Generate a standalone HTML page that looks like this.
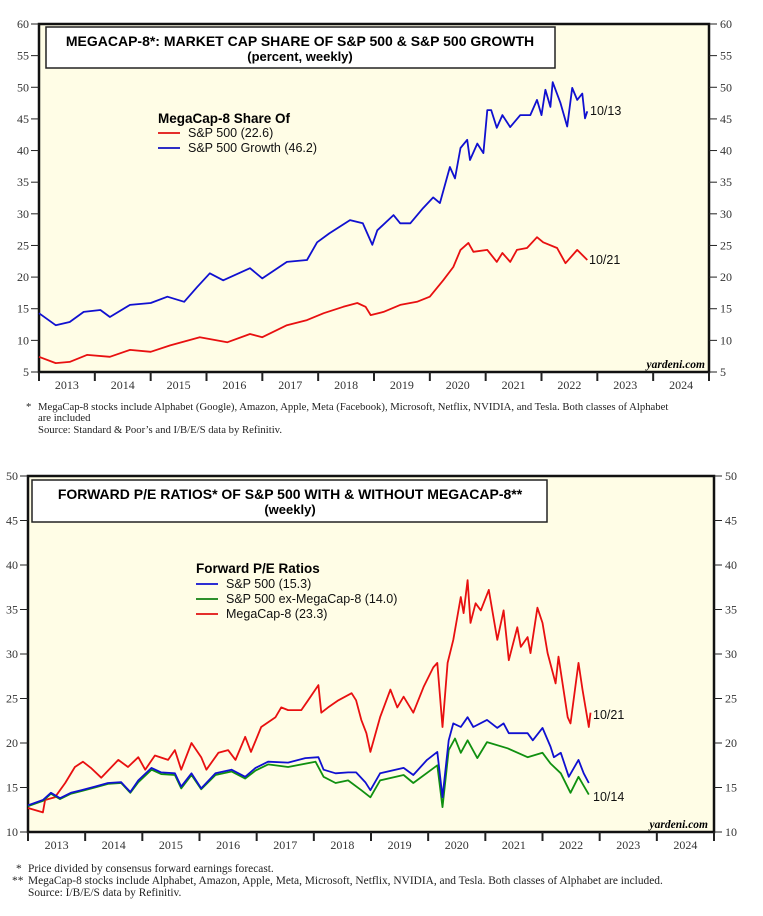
<!DOCTYPE html>
<html><head><meta charset="utf-8">
<style>
body{margin:0;background:#fff;width:763px;height:916px;overflow:hidden}
svg{display:block}
.tk{font-family:"Liberation Serif",serif;font-size:12px;fill:#333}
.ft{font-family:"Liberation Serif",serif;font-size:10.7px;fill:#222}
.fb{font-family:"Liberation Serif",serif;font-size:11.4px;fill:#222}
.tt{font-family:"Liberation Sans",sans-serif;font-weight:bold;fill:#000}
.lg{font-family:"Liberation Sans",sans-serif;font-size:12.5px;fill:#111}
</style></head><body>
<svg id="c" width="763" height="916" xmlns="http://www.w3.org/2000/svg"></svg>
<script>
const years=['2013','2014','2015','2016','2017','2018','2019','2020','2021','2022','2023','2024'];
const topTicks=[5,10,15,20,25,30,35,40,45,50,55,60];
const botTicks=[10,15,20,25,30,35,40,45,50];
const growthX=[2013.0,2013.3,2013.55,2013.8,2014.1,2014.27,2014.63,2015.0,2015.3,2015.6,2015.83,2016.06,2016.3,2016.78,2017.0,2017.44,2017.8,2017.98,2018.2,2018.57,2018.8,2018.97,2019.06,2019.35,2019.47,2019.65,2019.88,2020.06,2020.18,2020.36,2020.45,2020.55,2020.67,2020.72,2020.85,2020.96,2021.03,2021.1,2021.2,2021.3,2021.44,2021.62,2021.8,2021.92,2022.0,2022.07,2022.16,2022.2,2022.34,2022.46,2022.55,2022.64,2022.73,2022.78,2022.82];
const growthY=[14.3,12.4,12.9,14.5,14.8,13.7,15.6,15.9,16.9,16.1,18.4,20.6,19.5,21.4,19.8,22.4,22.7,25.5,26.9,29,28.5,25.1,27.4,29.8,28.5,28.5,30.9,32.6,31.7,37.4,35.6,40.4,41.7,38.5,41.1,39.6,46.4,46.4,43.6,45.6,43.7,45.6,45.6,48,45.6,49.6,46.9,50.8,47.5,43.8,49.9,48,49,45.1,46.2];
const spxX=[2013.0,2013.3,2013.55,2013.86,2014.27,2014.63,2015.0,2015.35,2015.88,2016.37,2016.78,2017.0,2017.44,2017.8,2018.1,2018.45,2018.7,2018.85,2018.94,2019.17,2019.47,2019.77,2020.0,2020.24,2020.42,2020.55,2020.69,2020.78,2021.03,2021.2,2021.3,2021.44,2021.56,2021.74,2021.92,2022.03,2022.28,2022.43,2022.64,2022.82];
const spxY=[7.4,6.4,6.6,7.7,7.4,8.5,8.2,9.2,10.5,9.7,11,10.5,12.4,13.2,14.3,15.3,15.9,15.3,14,14.5,15.6,16.1,16.9,19.5,21.6,24.3,25.4,24,24.3,22.4,23.8,22.4,24.3,24.6,26.3,25.5,24.6,22.2,24.3,22.7];
const peSpxX=[2013.0,2013.26,2013.4,2013.56,2013.75,2013.93,2014.17,2014.4,2014.63,2014.79,2014.93,2015.16,2015.33,2015.57,2015.68,2015.86,2016.03,2016.28,2016.56,2016.8,2016.98,2017.2,2017.55,2017.85,2018.08,2018.17,2018.38,2018.6,2018.74,2018.9,2018.99,2019.16,2019.57,2019.74,2019.98,2020.16,2020.25,2020.36,2020.44,2020.57,2020.69,2020.79,2021.03,2021.21,2021.32,2021.41,2021.74,2021.83,2022.0,2022.14,2022.2,2022.32,2022.46,2022.63,2022.72,2022.81];
const peSpxY=[13,13.6,14.4,13.8,14.4,14.7,15.1,15.5,15.6,14.5,15.8,17.2,16.7,16.6,15.1,16.6,14.9,16.6,17,16.2,17.2,17.9,17.8,18.3,18.4,17,16.6,16.7,16.7,15.6,14.7,16.6,17.2,16.4,18.1,19,13.9,20.3,22.2,21.8,22.9,21.8,22.6,21.7,22.2,21.1,21.1,20.3,21.7,19.6,18.4,18.9,16.2,18.1,16.6,15.5];
const peExX=[2013.0,2013.26,2013.4,2013.56,2013.75,2013.93,2014.17,2014.4,2014.63,2014.79,2014.93,2015.16,2015.33,2015.57,2015.68,2015.86,2016.03,2016.28,2016.56,2016.8,2016.98,2017.2,2017.55,2018.03,2018.17,2018.38,2018.6,2018.83,2018.99,2019.16,2019.57,2019.74,2020.16,2020.25,2020.36,2020.47,2020.57,2020.69,2020.86,2021.03,2021.39,2021.74,2022.0,2022.14,2022.32,2022.49,2022.63,2022.81];
const peExY=[12.9,13.5,14.3,13.7,14.3,14.6,15,15.4,15.5,14.4,15.6,17,16.5,16.4,14.9,16.4,14.8,16.4,16.8,16,16.9,17.6,17.3,17.9,16.2,15.5,15.8,14.7,13.9,15.8,16.4,15.5,17.5,12.8,19.2,20.5,18.9,20.3,18.3,20.1,19.4,18.4,18.9,17.7,16.6,14.4,16.2,14.2];
const peMegaX=[2013.0,2013.26,2013.3,2013.47,2013.65,2013.82,2013.96,2014.1,2014.28,2014.58,2014.75,2014.93,2015.05,2015.22,2015.45,2015.57,2015.68,2015.86,2016.03,2016.12,2016.33,2016.5,2016.63,2016.8,2016.9,2017.08,2017.33,2017.43,2017.55,2017.78,2017.9,2018.08,2018.13,2018.25,2018.43,2018.66,2018.74,2018.83,2018.92,2018.99,2019.16,2019.34,2019.46,2019.57,2019.74,2019.92,2020.09,2020.16,2020.25,2020.34,2020.44,2020.57,2020.62,2020.69,2020.74,2020.83,2020.92,2021.06,2021.21,2021.32,2021.41,2021.56,2021.62,2021.74,2021.79,2021.91,2022.0,2022.09,2022.23,2022.28,2022.44,2022.49,2022.63,2022.7,2022.81,2022.84];
const peMegaY=[12.7,12.2,13.6,13.9,15.5,17.3,17.9,17.2,16.1,18.1,17.3,18.4,17,18.6,18.1,19.2,17,20,18.4,17,18.9,19.2,18.1,20.7,19,21.8,22.9,24,23.7,23.7,24.8,26.5,23.4,24,24.8,25.6,24.8,22.6,21.1,19,22.9,26,24,25.2,23.4,26.3,28.5,29,21.8,29,31.6,36.4,34.6,38.3,33.5,35.7,34.9,37.2,31.6,34.9,29.3,33,30.8,31.9,30.1,35.2,33.5,30.1,26.7,29.7,22.9,22.2,29,26,21.8,23.4];

const S=document.getElementById('c');const NS='http://www.w3.org/2000/svg';
function mk(t,a,p){const e=document.createElementNS(NS,t);for(const k in a)e.setAttribute(k,a[k]);(p||S).appendChild(e);return e;}
function txt(s,a,name){const e=mk('text',a);e.textContent=s;


return e;}

function chart(L,R,T,B,vmin,vmax,ticks,pfx){
  const sx=y=>L+(y-2013)*(R-L)/12, sy=v=>B-(v-vmin)*(B-T)/(vmax-vmin);
  const bg=mk('rect',{x:L,y:T,width:R-L,height:B-T,fill:'#fffde6',stroke:'#111','stroke-width':2.5});
  
  
  ticks.forEach(v=>{const y=sy(v);
    mk('line',{x1:L-8,x2:L,y1:y,y2:y,stroke:'#222'});mk('line',{x1:R,x2:R+8,y1:y,y2:y,stroke:'#222'});
    txt(v,{x:L-10,y:y+4,'text-anchor':'end',class:'tk'},pfx+'-y-tick-left');
    txt(v,{x:R+11,y:y+4,class:'tk'},pfx+'-y-tick-right');});
  years.forEach((yr,i)=>{const x=sx(2013+i);
    mk('line',{x1:x,x2:x,y1:B,y2:B+9,stroke:'#222','stroke-width':2});
    txt(yr,{x:sx(2013.5+i),y:B+17,'text-anchor':'middle',class:'tk'},pfx+'-x-tick');});
  mk('line',{x1:R,x2:R,y1:B,y2:B+9,stroke:'#222','stroke-width':2});
  return {sx,sy};
}
function series(ax,xs,ys,col,name){
  const d=xs.map((x,i)=>(i?'L':'M')+ax.sx(x).toFixed(1)+','+ax.sy(ys[i]).toFixed(1)).join('');
  const p=mk('path',{d:d,fill:'none',stroke:col,'stroke-width':1.8,'stroke-linejoin':'round'});
  
  
}
function legline(x,y,col){mk('line',{x1:x,x2:x+22,y1:y,y2:y,stroke:col,'stroke-width':1.8});}

// top chart
const a1=chart(39,709,24,372,5,60,topTicks,'top');
mk('rect',{x:46,y:27,width:509,height:41,fill:'#fff',stroke:'#222','stroke-width':1.5});
txt('MEGACAP-8*: MARKET CAP SHARE OF S&P 500 & S&P 500 GROWTH',{x:300,y:46,'text-anchor':'middle',class:'tt','font-size':14},'top-chart-title');
txt('(percent, weekly)',{x:300,y:61,'text-anchor':'middle',class:'tt','font-size':13},'top-chart-subtitle');
txt('MegaCap-8 Share Of',{x:158,y:123,class:'tt','font-size':13.5},'top-legend-title');
legline(158,133,'#e01010');txt('S&P 500 (22.6)',{x:188,y:137,class:'lg'},'legend-entry-sp500');
legline(158,148,'#1010c0');txt('S&P 500 Growth (46.2)',{x:188,y:152,class:'lg'},'legend-entry-sp500-growth');
series(a1,spxX,spxY,'#e81010','series-sp500-share');
series(a1,growthX,growthY,'#1010d0','series-sp500-growth-share');
txt('10/13',{x:590,y:115,class:'lg','font-size':11.5,fill:'#2020b0'},'label-growth-date');
txt('10/21',{x:589,y:264,class:'lg','font-size':11.5,fill:'#c01010'},'label-sp500-date');
txt('yardeni.com',{x:705,y:368,'text-anchor':'end','font-family':'Liberation Serif,serif','font-style':'italic','font-weight':'bold','font-size':11.5},'top-watermark');
txt('*',{x:26,y:410,class:'ft'},'top-footnote-star');
txt('MegaCap-8 stocks include Alphabet (Google), Amazon, Apple, Meta (Facebook), Microsoft, Netflix, NVIDIA, and Tesla. Both classes of Alphabet',{x:38,y:410,class:'ft'},'top-footnote-1');
txt('are included',{x:38,y:421,class:'ft'},'top-footnote-2');
txt('Source: Standard & Poor’s and I/B/E/S data by Refinitiv.',{x:38,y:433,class:'ft'},'top-footnote-source');

// bottom chart
const a2=chart(28,714,476,832,10,50,botTicks,'bottom');
mk('rect',{x:32,y:480,width:515,height:42,fill:'#fff',stroke:'#222','stroke-width':1.5});
txt('FORWARD P/E RATIOS* OF S&P 500 WITH & WITHOUT MEGACAP-8**',{x:290,y:499,'text-anchor':'middle',class:'tt','font-size':14},'bottom-chart-title');
txt('(weekly)',{x:290,y:514,'text-anchor':'middle',class:'tt','font-size':13},'bottom-chart-subtitle');
txt('Forward P/E Ratios',{x:196,y:573,class:'tt','font-size':13.5},'bottom-legend-title');
legline(196,584,'#1010d0');txt('S&P 500 (15.3)',{x:226,y:588,class:'lg'},'legend-entry-pe-sp500');
legline(196,599,'#108010');txt('S&P 500 ex-MegaCap-8 (14.0)',{x:226,y:603,class:'lg'},'legend-entry-pe-ex-megacap');
legline(196,614,'#e01010');txt('MegaCap-8 (23.3)',{x:226,y:618,class:'lg'},'legend-entry-pe-megacap');
series(a2,peMegaX,peMegaY,'#e81010','series-pe-megacap8');
series(a2,peExX,peExY,'#109010','series-pe-ex-megacap8');
series(a2,peSpxX,peSpxY,'#1010d0','series-pe-sp500');
txt('10/21',{x:593,y:719,class:'lg','font-size':11.5,fill:'#c01010'},'label-megacap-date');
txt('10/14',{x:593,y:801,class:'lg','font-size':11.5,fill:'#108010'},'label-ex-megacap-date');
txt('yardeni.com',{x:708,y:828,'text-anchor':'end','font-family':'Liberation Serif,serif','font-style':'italic','font-weight':'bold','font-size':11.5},'bottom-watermark');
txt('*',{x:16,y:872,class:'fb'},'bottom-footnote-star');
txt('Price divided by consensus forward earnings forecast.',{x:28,y:872,class:'fb'},'bottom-footnote-1');
txt('**',{x:12,y:884,class:'fb'},'bottom-footnote-star2');
txt('MegaCap-8 stocks include Alphabet, Amazon, Apple, Meta, Microsoft, Netflix, NVIDIA, and Tesla. Both classes of Alphabet are included.',{x:28,y:884,class:'fb'},'bottom-footnote-2');
txt('Source: I/B/E/S data by Refinitiv.',{x:28,y:896,class:'fb'},'bottom-footnote-source');
</script>
</body></html>
